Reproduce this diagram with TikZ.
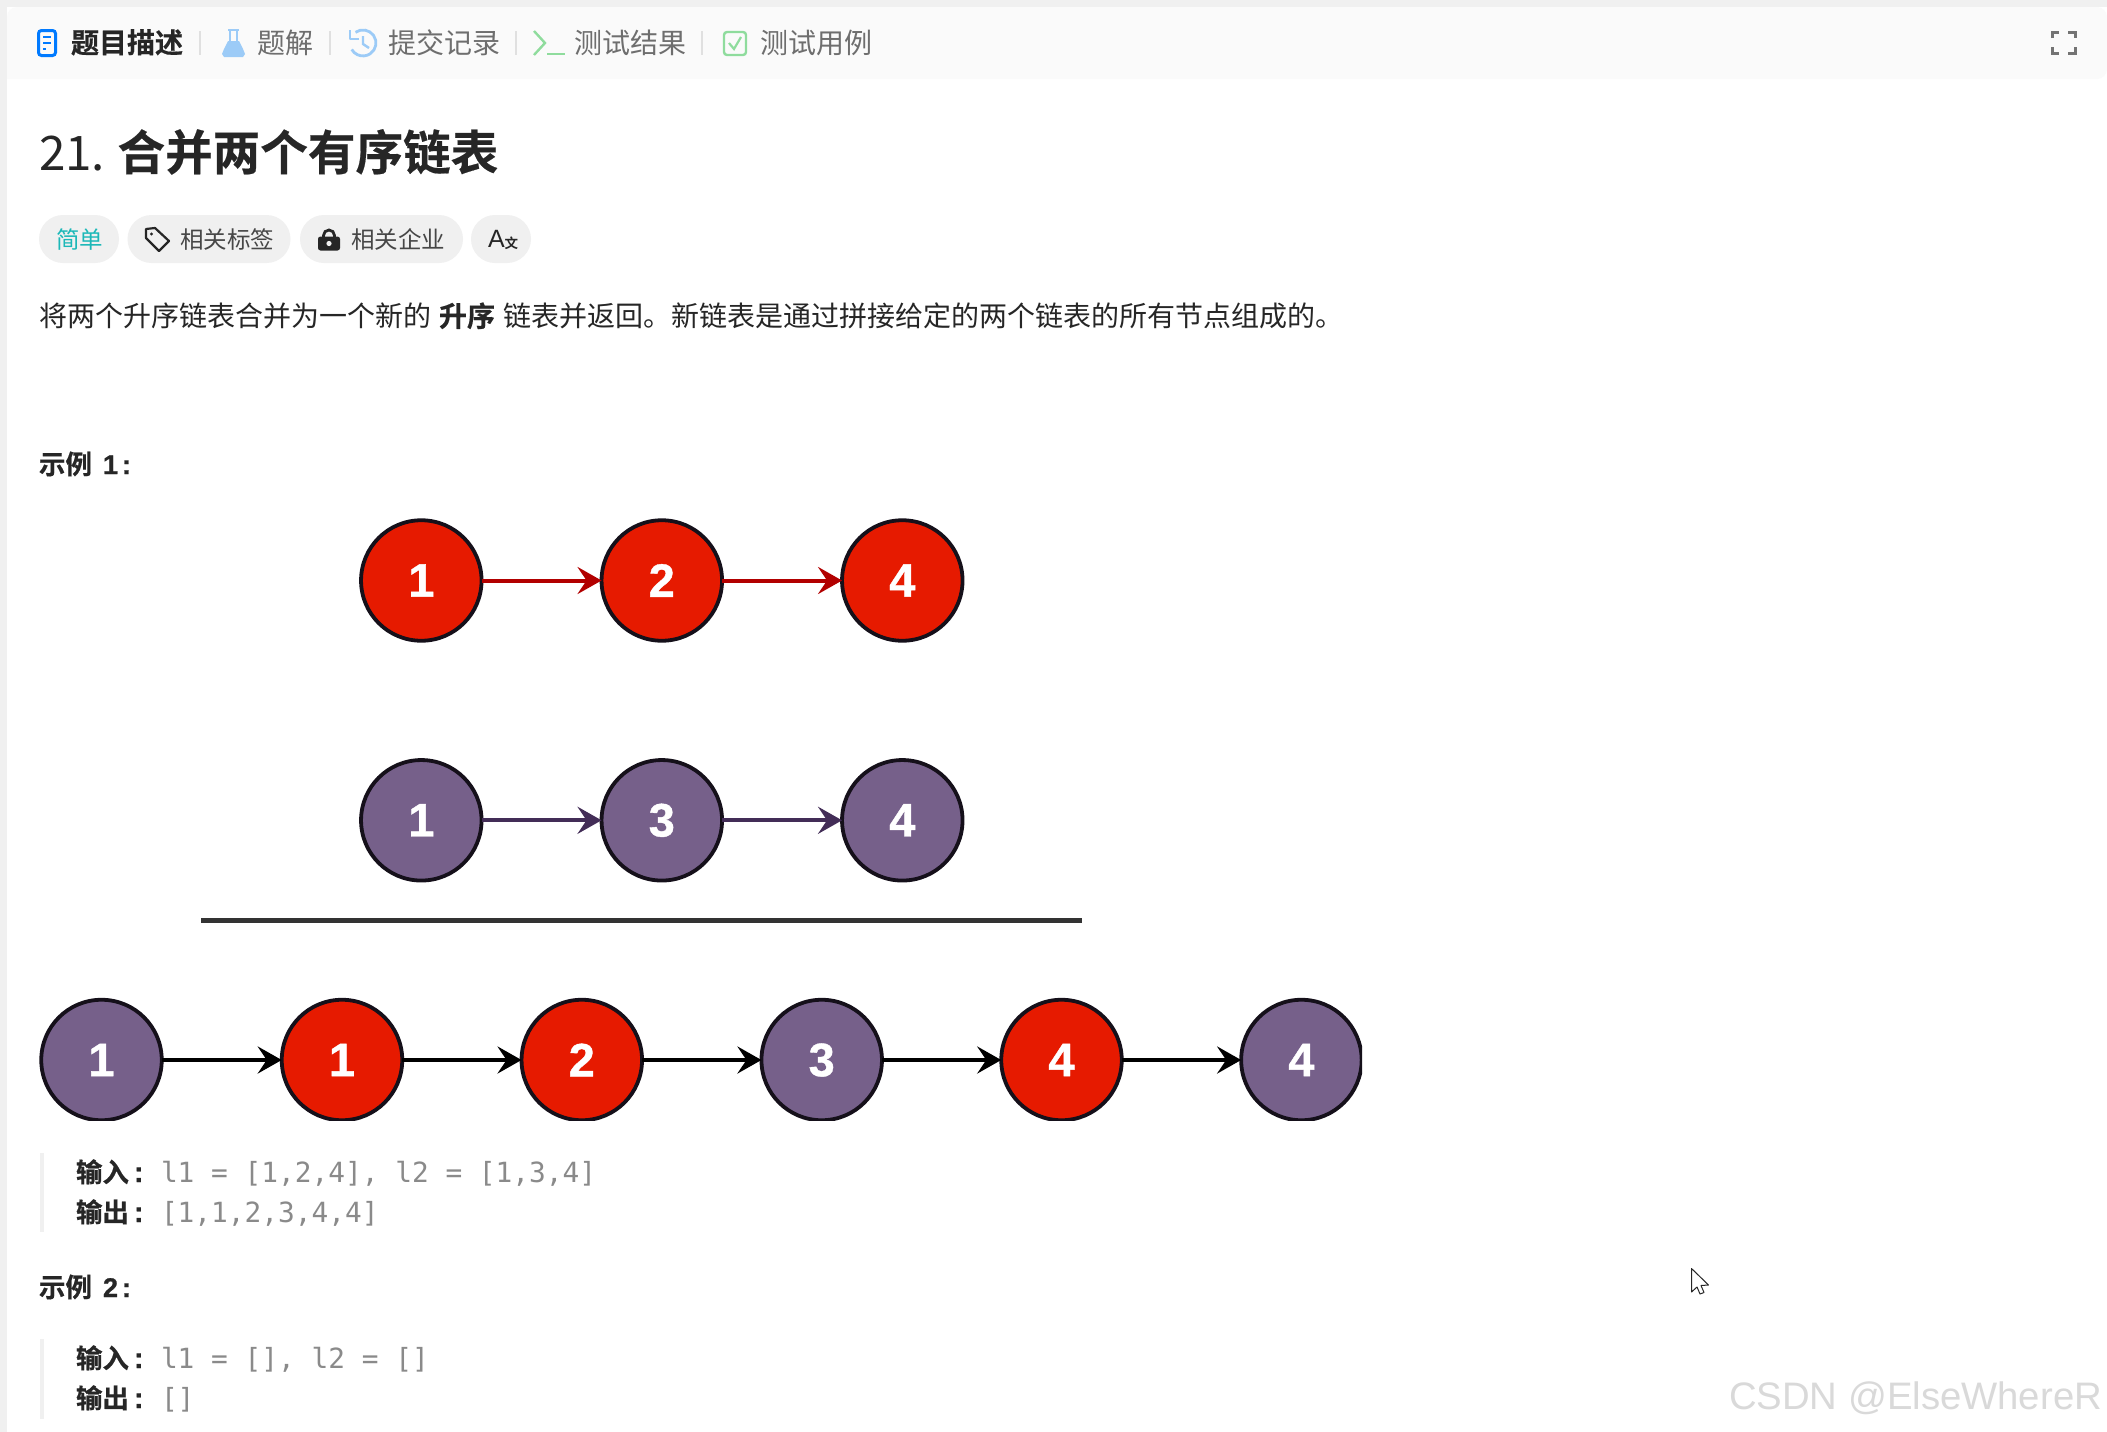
\documentclass[tikz,border=0pt]{standalone}
\usepackage{fontspec}
\setmainfont{Noto Sans CJK SC}[BoldFont={Noto Sans CJK SC Bold}]
\newfontfamily\arialf{Liberation Sans}
\newfontfamily\digf{Liberation Sans Bold}[FakeBold=0.8]
\newfontfamily\titlef{Noto Sans CJK SC Bold}[FakeBold=0.4]
\newfontfamily\headf{Noto Sans CJK SC Bold}[FakeBold=0.5]
\newfontfamily\monof{DejaVu Sans Mono}
\usetikzlibrary{arrows.meta}
\definecolor{rednode}{HTML}{E61A00}
\definecolor{rededge}{HTML}{B20000}
\definecolor{purnode}{HTML}{76608A}
\definecolor{puredge}{HTML}{432D57}
\definecolor{ringcol}{HTML}{15101A}
\definecolor{pagegray}{HTML}{F0F0F0}
\definecolor{headcol}{HTML}{FAFAFA}
\definecolor{inkcol}{HTML}{262626}
\definecolor{mutedcol}{HTML}{6E6E6E}
\definecolor{codecol}{HTML}{8A8A8A}
\definecolor{teal}{HTML}{1CB8B8}
\definecolor{wmcol}{HTML}{D9D9D9}
\definecolor{iblue}{HTML}{007AFF}
\definecolor{lblue}{HTML}{9CCBF7}
\definecolor{lgreen}{HTML}{8FDC9D}
\newcommand{\boldcolon}{\hspace{5pt}{\digf\fontsize{29}{30}\selectfont :}}
\newcommand{\exnum}[1]{\hspace{11pt}{\digf\fontsize{27}{30}\selectfont #1\hspace{4pt}:}}
\tikzset{
  x=1pt,y=-1pt,
  txt/.style={anchor=base west,inner sep=0pt,outer sep=0pt},
  tabon/.style={txt,text=inkcol,font=\fontsize{28}{30}\headf},
  taboff/.style={txt,text=mutedcol,font=\fontsize{28}{30}\selectfont},
  title/.style={txt,text=inkcol,font=\fontsize{47.6}{50}\titlef},
  pilltext/.style={txt,text=inkcol!85,font=\fontsize{23.5}{26}\selectfont},
  para/.style={txt,text=inkcol,font=\fontsize{28}{30}\selectfont},
  parab/.style={para,font=\fontsize{28}{30}\headf},
  head/.style={txt,text=inkcol,font=\fontsize{26.5}{30}\headf},
  code/.style={txt,text=codecol,font=\fontsize{27.8}{30}\monof},
  pill/.style={fill=pagegray,draw=none,rounded corners=24pt},
  llnode/.style={circle,minimum size=120.5pt,inner sep=0pt,outer sep=0pt,line width=3.8pt,draw=ringcol,text=white,
    font=\fontsize{47}{47}\digf},
  rnode/.style={llnode,fill=rednode},
  pnode/.style={llnode,fill=purnode},
  link/.style={line width=4pt,-{Stealth[length=24pt,width=27pt,inset=9pt]}},
  sepbar/.style={draw=black!12,line width=1.6pt},
  quotebar/.style={fill=pagegray,draw=none},
}
\begin{document}
\begin{tikzpicture}
\useasboundingbox (0,0) rectangle (2107,1432);
\fill[white] (0,0) rectangle (2107,1432);
\fill[pagegray] (0,0) rectangle (2107,7);
\fill[pagegray] (0,0) rectangle (7,1432);
\fill[headcol,rounded corners=10pt] (7,79) -- (7,7) -- (2107,7) -- (2107,79) [sharp corners] -- cycle;

% tab bar
\draw[iblue,line width=3pt,rounded corners=3pt] (38.5,30.5) rectangle (55.5,55.5);
\draw[iblue,line width=2.4pt] (43,37) -- (51,37) (43,43) -- (51,43) (43,49) -- (46,49);
\node[tabon] (t1) at (71,53) {题目描述};
\draw[sepbar] (200,31) -- (200,55);
\fill[lblue] (224,49) -- (228,41) -- (239,41) -- (243,49) -- (245,54) -- (243,57) -- (224,57) -- (222,54) -- cycle;
\draw[lblue,line width=2pt,line join=round] (228,30) -- (239,30) (230,30) -- (230,41) (237,30) -- (237,41);
\node[taboff] (t2) at (257,53) {题解};
\draw[sepbar] (330,31) -- (330,55);
\draw[lblue,line width=2.8pt] (355.5,32.3) arc[start angle=235,end angle=510,radius=13];
\draw[lblue,line width=2.8pt,line join=round] (350,30) -- (350,39) -- (358.5,39);
\draw[lblue,line width=2.4pt] (363,36) -- (363,44) -- (369,48);
\node[taboff] (t3) at (388,53) {提交记录};
\draw[sepbar] (516,31) -- (516,55);
\draw[lgreen,line width=2.4pt] (534,31) -- (545,43) -- (534,55);
\draw[lgreen,line width=2.4pt] (547,54) -- (565,54);
\node[taboff] (t4) at (574,53) {测试结果};
\draw[sepbar] (702,31) -- (702,55);
\draw[lgreen,line width=2.4pt,rounded corners=3pt] (724,32) rectangle (746,55);
\draw[lgreen,line width=2.2pt] (729,43) -- (734,49) -- (741,37);
\node[taboff] (t5) at (760,53) {测试用例};
\draw[black!55,line width=3pt] (2052,38) -- (2052,32.5) -- (2059,32.5) (2068,32.5) -- (2075,32.5) -- (2075,38)
  (2052,47) -- (2052,53.5) -- (2059,53.5) (2068,53.5) -- (2075,53.5) -- (2075,47);

% title
\node[txt,text=inkcol,font=\fontsize{47.6}{50}\selectfont] (ttnum) at (39,170) {21.};
\node[title] (tt) at (117.5,170) {合并两个有序链表};

% pills
\fill[pill] (39,215) rectangle (119,263);
\fill[pill] (127.5,215) rectangle (290.5,263);
\fill[pill] (300,215) rectangle (463,263);
\fill[pill] (471,215) rectangle (531,263);
\node[pilltext,text=teal] (p1) at (56,248) {简单};
\draw[inkcol,line width=2.2pt,line join=round] (146,229) -- (155,228) -- (169,241) -- (159,251) -- (146,238) -- cycle;
\fill[inkcol] (151.5,234) circle (1.7pt);
\node[pilltext] (p2) at (180,248) {相关标签};
\draw[inkcol,line width=2.8pt] (323.5,238) -- (323.5,235.5) arc[start angle=180,end angle=360,radius=5.5] -- (334.5,238);
\fill[inkcol,rounded corners=2.5pt] (318,236.5) rectangle (340,250.5);
\fill[pagegray] (329,243.5) circle (2.6pt);
\node[pilltext] (p3) at (351,248) {相关企业};
\node[txt,text=inkcol,font=\fontsize{25}{26}\arialf] (p4a) at (488,247.5) {A};
\node[txt,text=inkcol,font=\fontsize{13.5}{14}\selectfont\bfseries] (p4b) at (504.5,248) {文};

% paragraph
\node[para] (a1) at (39,326.5) {将两个升序链表合并为一个新的};
\node[parab] (a2) at (439,326.5) {升序};
\node[para] (a3) at (503,326.5) {链表并返回。新链表是通过拼接给定的两个链表的所有节点组成的。};

\node[head] (ex1) at (39,474) {示例\exnum{1}};

% list 1
\node[rnode] (a) at (421.3,580.5) {1};
\node[rnode] (b) at (661.8,580.5) {2};
\node[rnode] (c) at (902.3,580.5) {4};
\draw[link,rededge] (a) -- (b);
\draw[link,rededge] (b) -- (c);
% list 2
\node[pnode] (d) at (421.3,820.3) {1};
\node[pnode] (e) at (661.8,820.3) {3};
\node[pnode] (f) at (902.3,820.3) {4};
\draw[link,puredge] (d) -- (e);
\draw[link,puredge] (e) -- (f);
% rule
\coordinate (ruleL) at (201,920.4);
\coordinate (ruleR) at (1082,920.4);
\draw[line width=4.4pt,black!80] (ruleL) -- (ruleR);
% merged list
\begin{scope}
\clip (35,995) rectangle (1362,1120);
\node[pnode] (m1) at (101.5,1060) {1};
\node[rnode] (m2) at (342,1060) {1};
\node[rnode] (m3) at (581.8,1060) {2};
\node[pnode] (m4) at (821.7,1060) {3};
\node[rnode] (m5) at (1061.5,1060) {4};
\node[pnode] (m6) at (1301.4,1060) {4};
\draw[link,black] (m1) -- (m2);
\draw[link,black] (m2) -- (m3);
\draw[link,black] (m3) -- (m4);
\draw[link,black] (m4) -- (m5);
\draw[link,black] (m5) -- (m6);
\end{scope}

% example 1 io
\fill[quotebar] (40,1153) rectangle (43.5,1232);
\node[head] (i1) at (76,1182) {输入\boldcolon};
\node[code] (i1v) at (161,1182) {l1 = [1,2,4], l2 = [1,3,4]};
\node[head] (o1) at (76,1222) {输出\boldcolon};
\node[code] (o1v) at (161,1222) {[1,1,2,3,4,4]};

\node[head] (ex2) at (39,1297) {示例\exnum{2}};

\fill[quotebar] (40,1339) rectangle (43.5,1419);
\node[head] (i2) at (76,1368) {输入\boldcolon};
\node[code] (i2v) at (161,1368) {l1 = [], l2 = []};
\node[head] (o2) at (76,1408) {输出\boldcolon};
\node[code] (o2v) at (161,1408) {[]};

% cursor
\draw[black!85,fill=white,line width=1pt,line join=round] (1691.5,1268.5) -- (1691.5,1292) -- (1697,1287) -- (1700,1294) -- (1704,1292.5) -- (1701,1285.5) -- (1708.5,1285) -- cycle;

% watermark
\node[txt,text=wmcol,font=\fontsize{38.3}{44}\arialf] (wm) at (1729,1409) {CSDN @ElseWhereR};
\end{tikzpicture}
\end{document}
